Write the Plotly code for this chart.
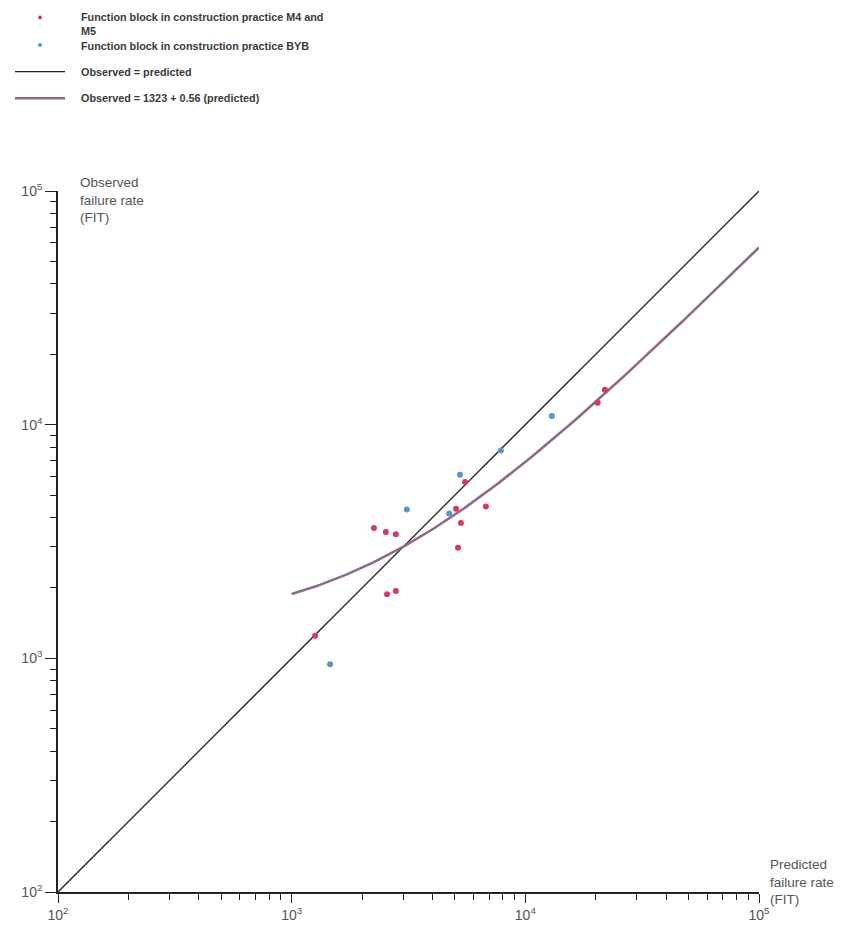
import numpy as np
import plotly.graph_objects as go

# Function blocks, construction practice M4 and M5 (predicted vs observed FIT)
pred_m45 = [1260, 2250, 2530, 2790, 2560, 2790, 5050, 5300, 5150, 5520, 6780, 20400, 21900]
obs_m45 = [1250, 3610, 3470, 3400, 1880, 1940, 4370, 3790, 2970, 5690, 4470, 12400, 14100]

# Function blocks, construction practice BYB
pred_byb = [1460, 3110, 4720, 5250, 7860, 13000]
obs_byb = [944, 4330, 4170, 6110, 7750, 10900]

# Regression: observed = 1323 + 0.56 * predicted
fit_a, fit_b = 1323, 0.56
fit_range = [1e3, 1e5]
ident_range = [1e2, 1e5]

decades = [2, 3, 4, 5]
decade_labels = ["10<sup>2</sup>", "10<sup>3</sup>", "10<sup>4</sup>", "10<sup>5</sup>"]

RED = "#d23a66"
BLUE = "#5e93c6"
MAUVE = "#8e6b8c"
FONT = "Liberation Sans"

W, H = 863, 935
L, R, T, B = 58, 759, 191, 902


def px(x):
    return (x - L) / (R - L)


def py(y):
    return (B - y) / (B - T)


fig = go.Figure()

fig.add_trace(go.Scatter(x=ident_range, y=ident_range, mode="lines",
                         line=dict(color="#222222", width=1.3), showlegend=False))

xf = np.logspace(np.log10(fit_range[0]), np.log10(fit_range[1]), 200)
fig.add_trace(go.Scatter(x=xf, y=fit_a + fit_b * xf, mode="lines",
                         line=dict(color=MAUVE, width=2.6), showlegend=False))

fig.add_trace(go.Scatter(x=pred_m45, y=obs_m45, mode="markers",
                         marker=dict(color=RED, size=6), showlegend=False))
fig.add_trace(go.Scatter(x=pred_byb, y=obs_byb, mode="markers",
                         marker=dict(color=BLUE, size=6), showlegend=False))

minor_vals = [m * 10 ** d for d in decades[:-1] for m in range(2, 10)]

axis_common = dict(
    type="log", range=[2, 5], tickmode="array",
    tickvals=[10 ** d for d in decades], ticktext=decade_labels,
    showgrid=False, zeroline=False, showline=True, linecolor="#222222", linewidth=1.6,
    ticks="outside", tickcolor="#222222", tickwidth=1.3,
    tickfont=dict(family=FONT, size=14, color="#555555"),
    minor=dict(tickmode="array", tickvals=minor_vals, ticks="outside",
               ticklen=6, tickcolor="#222222", tickwidth=1.2, showgrid=False),
)

fig.update_xaxes(**axis_common, ticklen=9)
fig.update_yaxes(**axis_common, ticklen=11)

annotations = [
    dict(x=px(78), y=py(173), text="Observed<br>failure rate<br>(FIT)",
         xanchor="left", yanchor="top", align="left"),
    dict(x=px(768), y=py(864), text="Predicted<br>failure rate<br>(FIT)",
         xanchor="left", yanchor="top", align="left"),
]
annotations = [dict(a, xref="paper", yref="paper", showarrow=False,
                    font=dict(family=FONT, size=13.5, color="#555555")) for a in annotations]

legend_items = [
    (6, "<b>Function block in construction practice M4 and<br>M5</b>"),
    (36, "<b>Function block in construction practice BYB</b>"),
    (62, "<b>Observed = predicted</b>"),
    (89, "<b>Observed = 1323 + 0.56 (predicted)</b>"),
]
for ytop, txt in legend_items:
    annotations.append(dict(x=px(79), y=py(ytop), xref="paper", yref="paper",
                            text=txt, showarrow=False, xanchor="left", yanchor="top",
                            align="left",
                            font=dict(family=FONT, size=10.8, color="#3a3a3a")))

shapes = [
    dict(type="circle", xref="paper", yref="paper",
         x0=px(38), x1=px(42), y0=py(13), y1=py(17), fillcolor=RED, line=dict(width=0)),
    dict(type="circle", xref="paper", yref="paper",
         x0=px(38), x1=px(42), y0=py(41), y1=py(45), fillcolor=BLUE, line=dict(width=0)),
    dict(type="line", xref="paper", yref="paper",
         x0=px(15), x1=px(65), y0=py(70), y1=py(70), line=dict(color="#222222", width=1.3)),
    dict(type="line", xref="paper", yref="paper",
         x0=px(15), x1=px(65), y0=py(97), y1=py(97), line=dict(color=MAUVE, width=2.6)),
]

fig.update_layout(
    width=W, height=H, autosize=False,
    margin=dict(l=L, r=W - R, t=T, b=H - B, pad=0),
    plot_bgcolor="white", paper_bgcolor="white",
    annotations=annotations, shapes=shapes, showlegend=False,
)

fig.write_html("out.html")
